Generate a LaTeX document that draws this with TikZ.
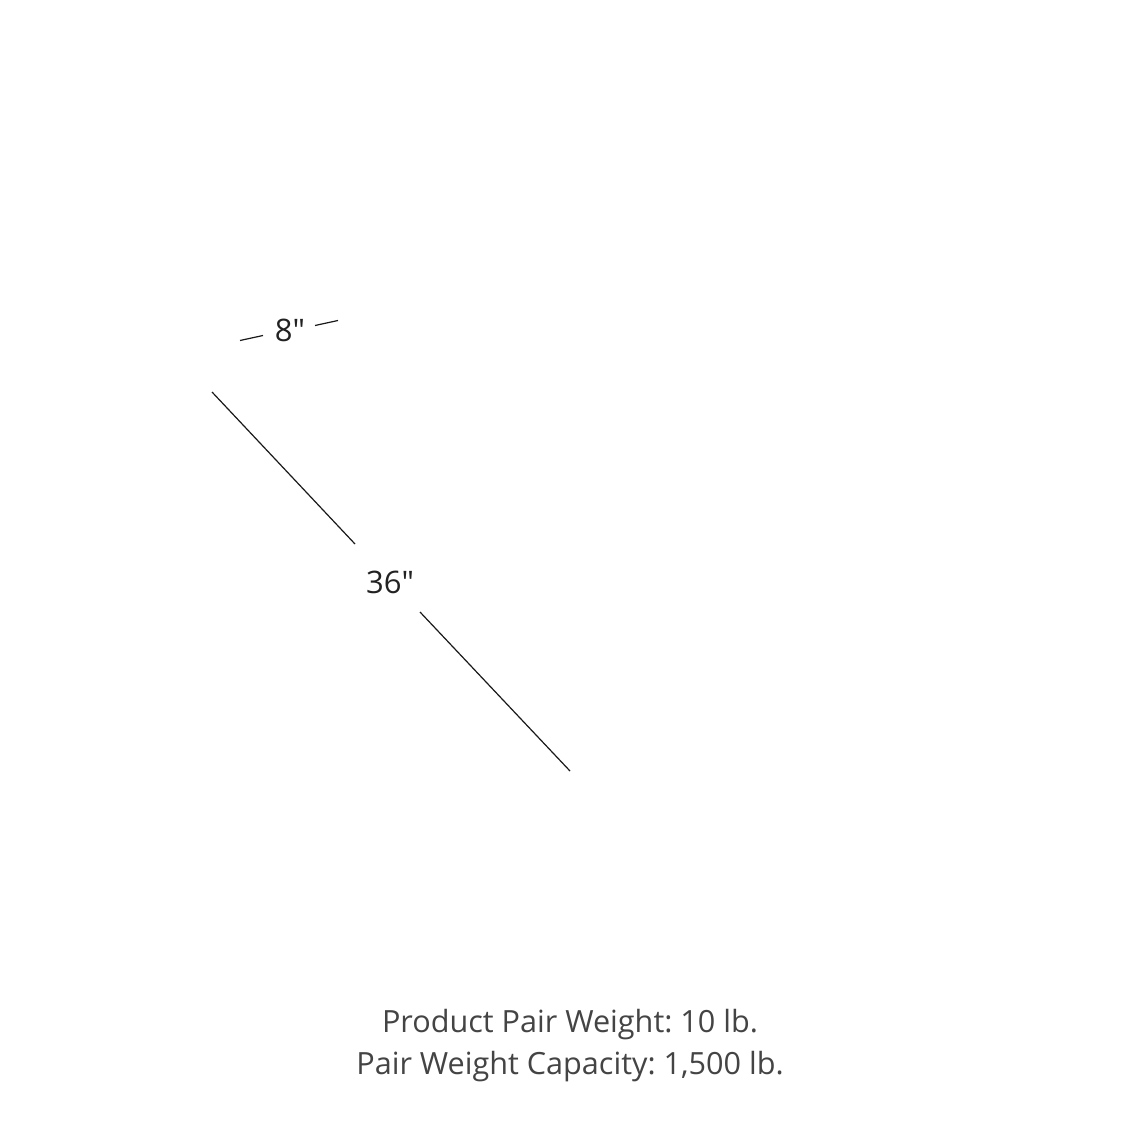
\documentclass[tikz,border=0pt]{standalone}
\usepackage{fontspec}
\setmainfont{Open Sans}[Ligatures=TeXOff]
\frenchspacing
\definecolor{lbl}{HTML}{222222}
\definecolor{info}{HTML}{444444}
\begin{document}
\begin{tikzpicture}[x=1pt,y=-1pt,
  dim/.style={line width=1.2pt,draw=black!90},
  lab/.style={font=\fontsize{31}{36}\selectfont,text=lbl,anchor=base,inner sep=0pt},
  infotxt/.style={font=\fontsize{30.6}{36}\selectfont,text=info,anchor=base,inner sep=0pt}]
\useasboundingbox (0,0) rectangle (1140,1140);
\fill[white] (0,0) rectangle (1140,1140);
% 8" dimension
\coordinate (w1a) at (240,340.5);
\coordinate (w1b) at (263,335.5);
\coordinate (w2a) at (315,325.5);
\coordinate (w2b) at (338,320.5);
\draw[dim] (w1a) -- (w1b);
\draw[dim] (w2a) -- (w2b);
\node[lab] (eight) at (290,341) {8"};
% 36" dimension
\coordinate (l1a) at (212,392);
\coordinate (l1b) at (355,544);
\coordinate (l2a) at (420,612);
\coordinate (l2b) at (570,771);
\draw[dim] (l1a) -- (l1b);
\draw[dim] (l2a) -- (l2b);
\node[lab] (thirtysix) at (390,593) {36"};
% info text
\node[infotxt] (weight) at (570,1032) {Product Pair Weight: 10 lb.};
\node[infotxt] (capacity) at (570,1074) {Pair Weight Capacity: 1,500 lb.};
\end{tikzpicture}
\end{document}
